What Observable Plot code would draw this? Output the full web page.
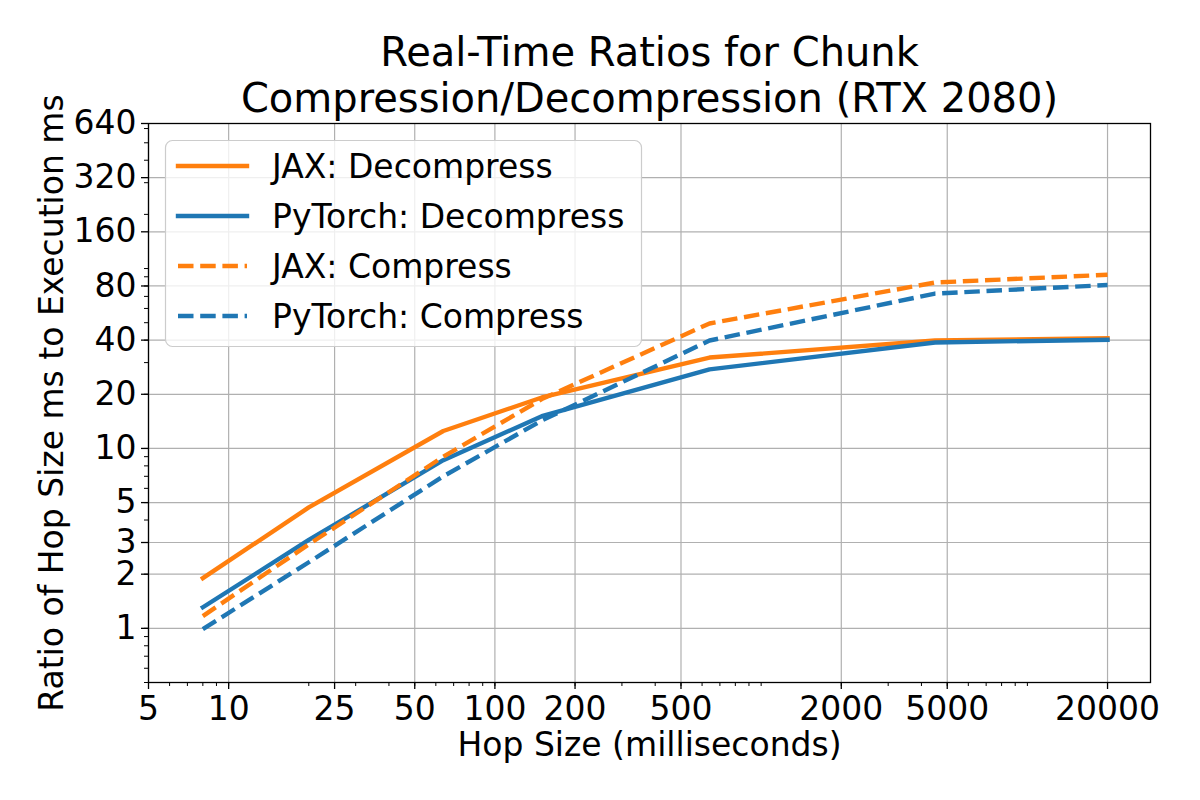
<!DOCTYPE html>
<html>
<head>
<meta charset="utf-8">
<script src="https://cdn.jsdelivr.net/npm/d3@7"></script>
<script src="https://cdn.jsdelivr.net/npm/@observablehq/plot@0.6"></script>
<style>
  html, body { margin: 0; padding: 0; background: white; }
  #chart { width: 1200px; height: 800px; }
</style>
</head>
<body>
<div id="chart"></div>
<script>
// ---- data ----
const hop = [8, 20, 64, 150, 640, 4500, 20000];
const jaxDecompress   = [1.9, 4.7, 12.5, 19.2, 32, 39.8, 41];
const torchDecompress = [1.31, 3.1, 8.6, 15.1, 27.5, 38.8, 40.2];
const jaxCompress     = [1.17, 2.93, 9.0, 18.8, 49.5, 83.6, 92.3];
const torchCompress   = [0.99, 2.33, 7.0, 14.3, 39.8, 72.6, 81];

const seriesNames = ["JAX: Decompress", "PyTorch: Decompress", "JAX: Compress", "PyTorch: Compress"];
const seriesValues = [jaxDecompress, torchDecompress, jaxCompress, torchCompress];
const seriesColors = ["#ff7f0e", "#1f77b4", "#ff7f0e", "#1f77b4"];
const seriesDash = [null, null, "15.5,6.7", "15.5,6.7"];

const xTicks = [5, 10, 25, 50, 100, 200, 500, 2000, 5000, 20000];
const yTicks = [1, 2, 3, 5, 10, 20, 40, 80, 160, 320, 640];

const titleLines = ["Real-Time Ratios for Chunk", "Compression/Decompression (RTX 2080)"];
const xLabel = "Hop Size (milliseconds)";
const yLabel = "Ratio of Hop Size ms to Execution ms";

// log minor tick positions
function logMinor(lo, hi) {
  const out = [];
  for (let e = -1; e <= 5; e++) for (let d = 1; d < 10; d++) {
    const v = +(d * Math.pow(10, e)).toPrecision(6);
    if (v >= lo && v <= hi) out.push(v);
  }
  return out;
}
const xDomain = [5, 29000];
const yDomain = [0.5, 640];
const xMinor = logMinor(xDomain[0], xDomain[1]);
const yMinor = logMinor(yDomain[0], yDomain[1]);

const FS = 33;
const LW = 4.4;

const lineMarks = seriesValues.map((vals, k) =>
  Plot.line(hop.map((h, i) => ({hop: h, v: vals[i]})), {
    x: "hop", y: "v",
    stroke: seriesColors[k], strokeWidth: LW,
    strokeDasharray: seriesDash[k] || undefined,
    strokeLinejoin: "round",
    strokeLinecap: seriesDash[k] ? "butt" : "square"
  })
);

const gridStyle = {stroke: "#b0b0b0", strokeOpacity: 1, strokeWidth: 1.2};

const chart = Plot.plot({
  width: 1200,
  height: 800,
  marginLeft: 148,
  marginRight: 50,
  marginTop: 123,
  marginBottom: 118,
  x: {type: "log", domain: xDomain},
  y: {type: "log", domain: yDomain},
  style: {fontFamily: "DejaVu Sans", background: "white", color: "black", overflow: "visible"},
  marks: [
    Plot.gridX(xTicks, gridStyle),
    Plot.gridY(yTicks, gridStyle),
    ...lineMarks,
    Plot.frame({stroke: "black", strokeWidth: 1.3}),
    Plot.axisX({ticks: xMinor, tickSize: 4, tickFormat: () => "", label: null, strokeWidth: 1}),
    Plot.axisY({ticks: yMinor, tickSize: 4, tickFormat: () => "", label: null, strokeWidth: 1}),
    Plot.axisX({ticks: xTicks, tickSize: 7, tickFormat: () => "", label: null, strokeWidth: 1.3}),
    Plot.axisY({ticks: yTicks, tickSize: 7, tickFormat: () => "", label: null, strokeWidth: 1.3}),
    // tick labels
    Plot.text(xTicks, {x: d => d, text: d => String(d), frameAnchor: "bottom", textAnchor: "middle", lineAnchor: "top", dy: 14, fontSize: FS, fill: "black"}),
    Plot.text(yTicks, {y: d => d, text: d => String(d), frameAnchor: "left", textAnchor: "end", lineAnchor: "middle", dx: -12, fontSize: FS, fill: "black"}),
    // axis labels
    Plot.text([xLabel], {text: d => d, frameAnchor: "bottom", textAnchor: "middle", lineAnchor: "middle", dy: 63, fontSize: FS, fill: "black"}),
    Plot.text([yLabel], {text: d => d, frameAnchor: "left", textAnchor: "middle", lineAnchor: "middle", rotate: -90, dx: -96, fontSize: FS, fill: "black"}),
    // title
    Plot.text([titleLines[0]], {text: d => d, frameAnchor: "top", textAnchor: "middle", lineAnchor: "middle", dy: -70, fontSize: 40, fill: "black"}),
    Plot.text([titleLines[1]], {text: d => d, frameAnchor: "top", textAnchor: "middle", lineAnchor: "middle", dy: -24, fontSize: 40, fill: "black"})
  ]
});

document.getElementById("chart").appendChild(chart);

// ---- legend (drawn into the same svg) ----
const svg = d3.select(chart);
const lg = svg.append("g").attr("font-family", "DejaVu Sans").attr("text-anchor", "start");
lg.append("rect")
  .attr("x", 165.5).attr("y", 140.5).attr("width", 476).attr("height", 206)
  .attr("rx", 7).attr("ry", 7)
  .attr("fill", "white").attr("fill-opacity", 0.8)
  .attr("stroke", "#cccccc").attr("stroke-width", 1.2);
seriesNames.forEach((name, i) => {
  const cy = 166 + i * 50;
  lg.append("line")
    .attr("x1", 178).attr("x2", 247).attr("y1", cy).attr("y2", cy)
    .attr("stroke", seriesColors[i]).attr("stroke-width", LW)
    .attr("stroke-dasharray", seriesDash[i])
    .attr("stroke-linecap", seriesDash[i] ? "butt" : "square");
  lg.append("text")
    .attr("x", 272).attr("y", cy).attr("dy", "0.35em")
    .attr("font-size", FS).attr("fill", "black")
    .attr("text-anchor", "start")
    .text(name);
});
</script>
</body>
</html>
